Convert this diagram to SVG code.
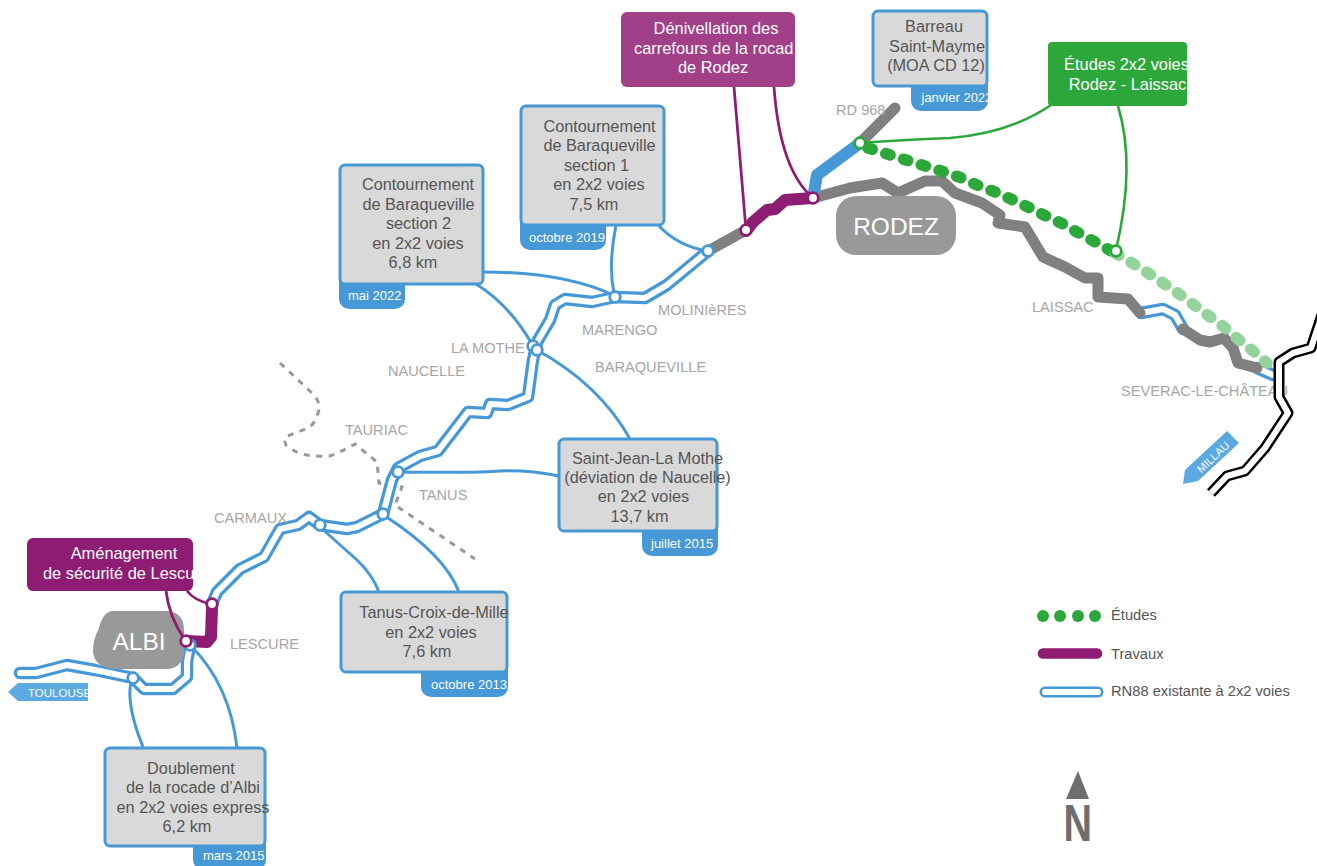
<svg xmlns="http://www.w3.org/2000/svg" width="1317" height="866" viewBox="0 0 1317 866">
<defs>
<style>
text{font-family:"Liberation Sans",Arial,sans-serif}
.r{fill:none;stroke-linejoin:round}
.ro{stroke:#4698d6;stroke-width:12.500;stroke-linecap:round}
.ri{stroke:#fff;stroke-width:6;stroke-linecap:round}
.gy{stroke:#808080;stroke-width:11;stroke-linecap:round}
.pu{stroke:#8e1c72;stroke-width:12;stroke-linecap:round}
.c{fill:none;stroke:#4698d6;stroke-width:3}
.cp{fill:none;stroke:#8e1c72;stroke-width:2.800}
.cg{fill:none;stroke:#2ca83a;stroke-width:2.600}
.box{fill:#d9d9d9;stroke:#4698d6;stroke-width:3}
.tag{fill:#4698d6}
.t{font-size:16.300px;fill:#555;text-anchor:middle}
.tw{font-size:16.400px;fill:#fff;text-anchor:middle}
.d{font-size:13px;fill:#fff}
.l{font-size:14.600px;fill:#a6a6a6}
.city{fill:#999}
.ct{font-size:24.500px;fill:#fff;text-anchor:middle}
.n{fill:#fff;stroke-width:2.800}
.nb{stroke:#4698d6}.np{stroke:#8e1c72}.ng{stroke:#2ca83a}
.lg{font-size:14.700px;fill:#555}
</style>
</defs>
<rect width="1317" height="866" fill="#fff"/>
<path id="limit" d="M280,363 Q296,378 312,393 Q322,403 318,413 Q315,424 308,428 L285,437 Q284,445 288,447 Q298,454 307,455 Q320,457 330,456 Q343,451 355,444 L377,462 L379,483 L402,487 L395,505 L475,559" fill="none" stroke="#999" stroke-width="3" stroke-dasharray="6 6.500"/>
<g id="roads">
<path class="r ro" d="M20,673 L36,673 L67,665 L95,670 L133,678 L144,689 L173,689 L187,677 L187,662 L190,645"/>
<path class="r ro" d="M212,604 L217,592 L240,569 L264,557 L280,529 L298,525 L309,517 L320,525 L347,529 L357,527 L383,514 L392,480 L398,468 L420,456 L438,451 L468,412 L487,413 L490,404 L508,405 L528,397 L533,360 L537,342 L550,320 L555,305 L565,299 L592,302 L615,297 L645,298 L667,285 L708,251"/>
<path class="r ro" d="M1141,313 L1163,309 L1175,315 L1183,329"/>
<path class="r ro" d="M1257,368 L1273,375"/>
<path class="r ri" d="M20,673 L36,673 L67,665 L95,670 L133,678 L144,689 L173,689 L187,677 L187,662 L190,645"/>
<path class="r ri" d="M212,604 L217,592 L240,569 L264,557 L280,529 L298,525 L309,517 L320,525 L347,529 L357,527 L383,514 L392,480 L398,468 L420,456 L438,451 L468,412 L487,413 L490,404 L508,405 L528,397 L533,360 L537,342 L550,320 L555,305 L565,299 L592,302 L615,297 L645,298 L667,285 L708,251"/>
<path class="r ri" d="M1141,313 L1163,309 L1175,315 L1183,329"/>
<path class="r ri" d="M1257,368 L1273,375"/>
<path class="r gy" d="M708,251 L746,230"/>
<path class="r gy" d="M813,198 L850,188 L882,183 L898,193 L925,181 L942,181 L955,193 L982,203 L1000,215 L998,223 L1025,227 L1043,257 L1065,267 L1085,278 L1098,278 L1098,297 L1128,299 L1140,313"/>
<path class="r gy" d="M1183,329 L1200,340 L1210,342 L1224,338 L1233,348 L1238,363 L1257,368"/>
<path class="r gy" d="M860,143 L895,108"/>
<path class="r" d="M813,198 L817,175 L860,143" stroke="#4698d6" stroke-width="12"/>
<path class="r pu" d="M746,231 L753,222 L767,210 L775,209 L785,200 L813,198"/>
<path class="r pu" d="M212,608 L211,637 L207,642 L187,641"/>
<path class="r" d="M868,148 L941,171 L959,177 L977,185 L995,192 L1013,200 L1030,208 L1048,217 L1065,225 L1082,235 L1099,244 L1115,253" stroke="#2ca83a" stroke-width="11.500" stroke-linecap="round" stroke-dasharray="4.500 14.100"/>
<path class="r" d="M1115,253 L1132,263 L1148,273 L1163,283 L1179,294 L1194,305 L1209,316 L1224,327 L1238,339 L1253,351 L1267,363" stroke="#94d49b" stroke-width="11.500" stroke-linecap="round" stroke-dasharray="4.500 14"/>
</g>
<g id="albi"><path class="city" d="M112,611 L168,611 Q184,613 184,630 L184,652 Q182,669 166,669 L114,669 Q93,667 93,650 Q93,640 99,628 Q103,612 112,611 Z"/><text class="ct" x="139" y="650">ALBI</text></g>
<g id="rodez"><rect class="city" x="836" y="196" width="120" height="59" rx="20"/><text class="ct" x="896" y="235">RODEZ</text></g>
<g id="connectors">
<path class="c" d="M483,272 Q563,272 613,295"/>
<path class="c" d="M476,284 Q510,305 533,346"/>
<path class="c" d="M616,225 Q608,265 614,293"/>
<path class="c" d="M659,226 Q678,246 707,251"/>
<path class="c" d="M537,350 Q600,385 630,439"/>
<path class="c" d="M398,472 Q480,473 500,471 Q530,470 559,476"/>
<path class="c" d="M320,527 L357,560 Q372,574 379,592"/>
<path class="c" d="M385,516 Q445,555 459,592"/>
<path class="c" d="M131,682 Q126,705 143,747"/>
<path class="c" d="M191,646 Q230,685 237,748"/>
<path class="cp" d="M734,87 L746,230"/>
<path class="cp" d="M774,87 Q780,170 813,198"/>
<path class="cp" d="M166,591 Q169,617 185,640"/>
<path class="cp" d="M187,591 Q195,601 211,604"/>
<path class="cg" d="M1051,105 Q1010,133 950,138 Q900,140 861,143"/>
<path class="cg" d="M1118,106 Q1136,165 1116,250"/>
</g>
<g id="junctions">
<circle class="n nb" cx="190" cy="645" r="5.300"/>
<circle class="n nb" cx="133" cy="678" r="5.300"/>
<circle class="n nb" cx="320" cy="525" r="5.300"/>
<circle class="n nb" cx="383" cy="514" r="5.300"/>
<circle class="n nb" cx="398" cy="472" r="5.300"/>
<circle class="n nb" cx="533" cy="346" r="5.300"/>
<circle class="n nb" cx="537" cy="350" r="5.300"/>
<circle class="n nb" cx="615" cy="297" r="5.300"/>
<circle class="n nb" cx="708" cy="251" r="5.300"/>
<circle class="n np" cx="746" cy="230" r="5.300"/>
<circle class="n np" cx="813" cy="198" r="5.300"/>
<circle class="n np" cx="212" cy="604" r="5.300"/>
<circle class="n np" cx="186" cy="641" r="5.300"/>
<circle class="n ng" cx="860" cy="143" r="5.300"/>
<circle class="n ng" cx="1116" cy="251" r="5.300"/>
</g>
<g id="n-baraq2"><rect class="tag" x="339" y="262" width="66" height="47" rx="10"/><rect class="box" x="340" y="165" width="143" height="119" rx="5"/><text class="t" x="418" y="190">Contournement</text><text class="t" x="418.500" y="210">de Baraqueville</text><text class="t" x="418.500" y="229">section 2</text><text class="t" x="418" y="249">en 2x2 voies</text><text class="t" x="413" y="268">6,8 km</text><text class="d" x="348" y="300">mai 2022</text></g>
<g id="n-baraq1"><rect class="tag" x="520" y="205" width="86" height="45" rx="10"/><rect class="box" x="521" y="106" width="143" height="119" rx="5"/><text class="t" x="599.500" y="132">Contournement</text><text class="t" x="599.500" y="151">de Baraqueville</text><text class="t" x="596.500" y="171">section 1</text><text class="t" x="599" y="190">en 2x2 voies</text><text class="t" x="594" y="210">7,5 km</text><text class="d" x="529" y="242">octobre 2019</text></g>
<g id="n-stjean"><rect class="tag" x="642" y="510" width="76" height="46" rx="10"/><rect class="box" x="559" y="439" width="158" height="92" rx="5"/><text class="t" x="647.500" y="464">Saint-Jean-La Mothe</text><text class="t" x="647.500" y="483">(déviation de Naucelle)</text><text class="t" x="643.500" y="502">en 2x2 voies</text><text class="t" x="639.500" y="522">13,7 km</text><text class="d" x="651" y="548">juillet 2015</text></g>
<g id="n-tanus"><rect class="tag" x="421" y="650" width="87" height="47" rx="10"/><rect class="box" x="341" y="592" width="166" height="80" rx="5"/><text class="t" x="434" y="618">Tanus-Croix-de-Mille</text><text class="t" x="431" y="638">en 2x2 voies</text><text class="t" x="427" y="657">7,6 km</text><text class="d" x="431" y="689">octobre 2013</text></g>
<g id="n-albi"><rect class="tag" x="193" y="825" width="73" height="45" rx="10"/><rect class="box" x="105" y="748" width="160" height="98" rx="5"/><text class="t" x="191" y="774">Doublement</text><text class="t" x="193" y="793">de la rocade d’Albi</text><text class="t" x="193" y="813">en 2x2 voies express</text><text class="t" x="187" y="832">6,2 km</text><text class="d" x="203" y="860">mars 2015</text></g>
<g id="n-barreau"><rect class="tag" x="911" y="70" width="77" height="41" rx="10"/><rect class="box" x="873" y="11" width="114" height="75" rx="5"/><text class="t" x="934" y="32">Barreau</text><text class="t" x="937" y="52">Saint-Mayme</text><text class="t" x="936" y="71">(MOA CD 12)</text><text class="d" x="921.500" y="102">janvier 2022</text></g>
<g id="n-denivel"><rect x="621" y="12" width="174" height="75" rx="6" fill="#a14088"/><text class="tw" x="716" y="34">Dénivellation des</text><text class="tw" x="634" y="54" style="text-anchor:start">carrefours de la rocad</text><text class="tw" x="713" y="73">de Rodez</text></g>
<g id="n-etudes"><rect x="1048" y="42" width="139" height="64" rx="4" fill="#2ca83a"/><text class="tw" x="1126.500" y="70">Études 2x2 voies</text><text class="tw" x="1127.500" y="90">Rodez - Laissac</text></g>
<g id="n-lescure"><rect x="27" y="538" width="166" height="53" rx="6" fill="#8e1c72"/><text class="tw" x="124" y="559">Aménagement</text><text class="tw" x="43" y="579" style="text-anchor:start">de sécurité de Lescu</text></g>
<g id="labels">
<text class="l" x="230" y="649">LESCURE</text>
<text class="l" x="214" y="523">CARMAUX</text>
<text class="l" x="419" y="500">TANUS</text>
<text class="l" x="345" y="435">TAURIAC</text>
<text class="l" x="388" y="376">NAUCELLE</text>
<text class="l" x="451" y="353">LA MOTHE</text>
<text class="l" x="595" y="372">BARAQUEVILLE</text>
<text class="l" x="582" y="335">MARENGO</text>
<text class="l" x="658" y="315">MOLINIèRES</text>
<text class="l" x="836" y="115">RD 968</text>
<text class="l" x="1032" y="312">LAISSAC</text>
<text class="l" x="1121" y="396">SEVERAC-LE-CHÂTEAU</text>
</g>
<g id="a75">
<path class="r" d="M1322,315 L1311,348 L1293,353 L1279,362 L1279,397 L1288,413 L1265,448 L1245,471 L1227,476 L1211,493" stroke="#000" stroke-width="11"/>
<path class="r" d="M1322,315 L1311,348 L1293,353 L1279,362 L1279,397 L1288,413 L1265,448 L1245,471 L1227,476 L1211,493" stroke="#fff" stroke-width="6"/>
</g>
<g id="toulouse"><path d="M8,692 L18,683 L88,683 L88,701 L18,701 Z" fill="#5aa9e0"/><text x="28" y="697" font-size="11.500" fill="#fff">TOULOUSE</text></g>
<g id="millau"><path d="M1227,431 L1239,443 L1198,481 L1183,484 L1185,470 Z" fill="#5aa9e0"/><text x="1213" y="461" font-size="11" fill="#fff" text-anchor="middle" transform="rotate(-43 1213 457)">MILLAU</text></g>
<g id="legend">
<circle cx="1043" cy="616" r="6" fill="#2ca83a"/><circle cx="1060" cy="616" r="6" fill="#2ca83a"/><circle cx="1078" cy="616" r="6" fill="#2ca83a"/><circle cx="1095" cy="616" r="6" fill="#2ca83a"/>
<line x1="1043" y1="653.500" x2="1097" y2="653.500" stroke="#8e1c72" stroke-width="10.500" stroke-linecap="round"/>
<line x1="1045" y1="692" x2="1098" y2="692" stroke="#4698d6" stroke-width="11" stroke-linecap="round"/><line x1="1045" y1="692" x2="1098" y2="692" class="ri"/>
<text class="lg" x="1111" y="620">Études</text><text class="lg" x="1111" y="659">Travaux</text><text class="lg" x="1111" y="696">RN88 existante à 2x2 voies</text>
</g>
<g id="north"><path d="M1078,771 L1066,799 L1089,799 Z" fill="#6e6e6e"/><text transform="translate(1063.500 841) scale(0.76 1)" font-size="52" font-weight="bold" fill="#6e6e6e">N</text></g>
</svg>
